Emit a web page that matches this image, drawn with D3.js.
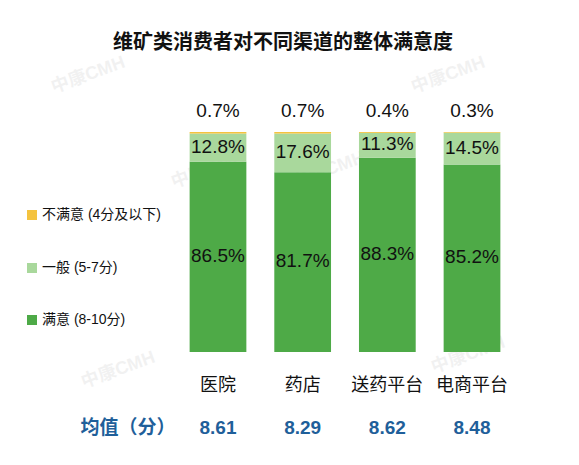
<!DOCTYPE html>
<html>
<head>
<meta charset="utf-8">
<script src="https://cdn.jsdelivr.net/npm/d3@7"></script>
<style>
  body { margin: 0; background: #fff; }
  text { font-family: "Liberation Sans", "Noto Sans CJK SC", sans-serif; }
</style>
</head>
<body>
<svg id="chart" width="579" height="465"></svg>
<script>
const channels = ['医院', '药店', '送药平台', '电商平台']
const satisfied = [86.5, 81.7, 88.3, 85.2]
const neutral = [12.8, 17.6, 11.3, 14.5]
const unsatisfied = [0.7, 0.7, 0.4, 0.3]
const means = ['8.61', '8.29', '8.62', '8.48']
const seriesNames = ['满意 (8-10分)', '一般 (5-7分)', '不满意 (4分及以下)']
const colors = ['#4eaa47', '#a9d89c', '#f4c33f']

const svg = d3.select('#chart')

// watermark
const marks = [[90, 80], [210, 175], [450, 80], [330, 175], [120, 375], [470, 360]]
marks.forEach(m => {
  svg.append('text')
    .attr('transform', `translate(${m[0]},${m[1]}) rotate(-20)`)
    .attr('text-anchor', 'middle')
    .style('font-size', 18).style('font-weight', 'bold')
    .style('fill', '#000').style('opacity', 0.05)
    .text('中康CMH')
})

svg.append('text')
  .attr('x', 283).attr('y', 49)
  .attr('text-anchor', 'middle')
  .style('font-size', 20).style('font-weight', 'bold').style('fill', '#111')
  .text('维矿类消费者对不同渠道的整体满意度')

const x = d3.scaleBand().domain(channels).range([171, 519]).paddingInner(0.33).paddingOuter(0.22)
const y = d3.scaleLinear().domain([0, 100]).range([352, 132])

const stackData = channels.map((c, i) => ({ c, s: satisfied[i], n: neutral[i], u: unsatisfied[i] }))
const stacked = d3.stack().keys(['s', 'n', 'u'])(stackData)

stacked.forEach((layer, k) => {
  svg.append('g').selectAll('rect')
    .data(layer)
    .join('rect')
    .attr('x', d => x(d.data.c))
    .attr('width', x.bandwidth())
    .attr('y', d => y(d[1]))
    .attr('height', d => y(d[0]) - y(d[1]))
    .style('fill', colors[k])
})

const lbl = (xx, yy, t, size) => svg.append('text')
  .attr('x', xx).attr('y', yy)
  .attr('text-anchor', 'middle').attr('dominant-baseline', 'middle')
  .style('font-size', size).style('fill', '#111').text(t)

stackData.forEach((d, i) => {
  const cx = x(d.c) + x.bandwidth() / 2
  lbl(cx, y((d.s) / 2), d.s.toFixed(1) + '%', 19)
  lbl(cx, y(d.s + d.n / 2), d.n.toFixed(1) + '%', 19)
  lbl(cx, 112, d.u.toFixed(1) + '%', 19)
  lbl(cx, 386, d.c, 18)
  svg.append('text')
    .attr('x', cx).attr('y', 429)
    .attr('text-anchor', 'middle').attr('dominant-baseline', 'middle')
    .style('font-size', 19).style('font-weight', 'bold').style('fill', '#1f5f9a')
    .text(means[i])
})

svg.append('text')
  .attr('x', 128).attr('y', 429)
  .attr('text-anchor', 'middle').attr('dominant-baseline', 'middle')
  .style('font-size', 19).style('font-weight', 'bold').style('fill', '#1f5f9a')
  .text('均值（分）')

const legendY = [320, 268, 215]
seriesNames.forEach((n, k) => {
  svg.append('rect').attr('x', 27).attr('y', legendY[k] - 5)
    .attr('width', 10).attr('height', 10).style('fill', colors[k])
  svg.append('text').attr('x', 42).attr('y', legendY[k])
    .attr('dominant-baseline', 'middle')
    .style('font-size', 14).style('fill', '#111').text(n)
})
</script>
</body>
</html>
